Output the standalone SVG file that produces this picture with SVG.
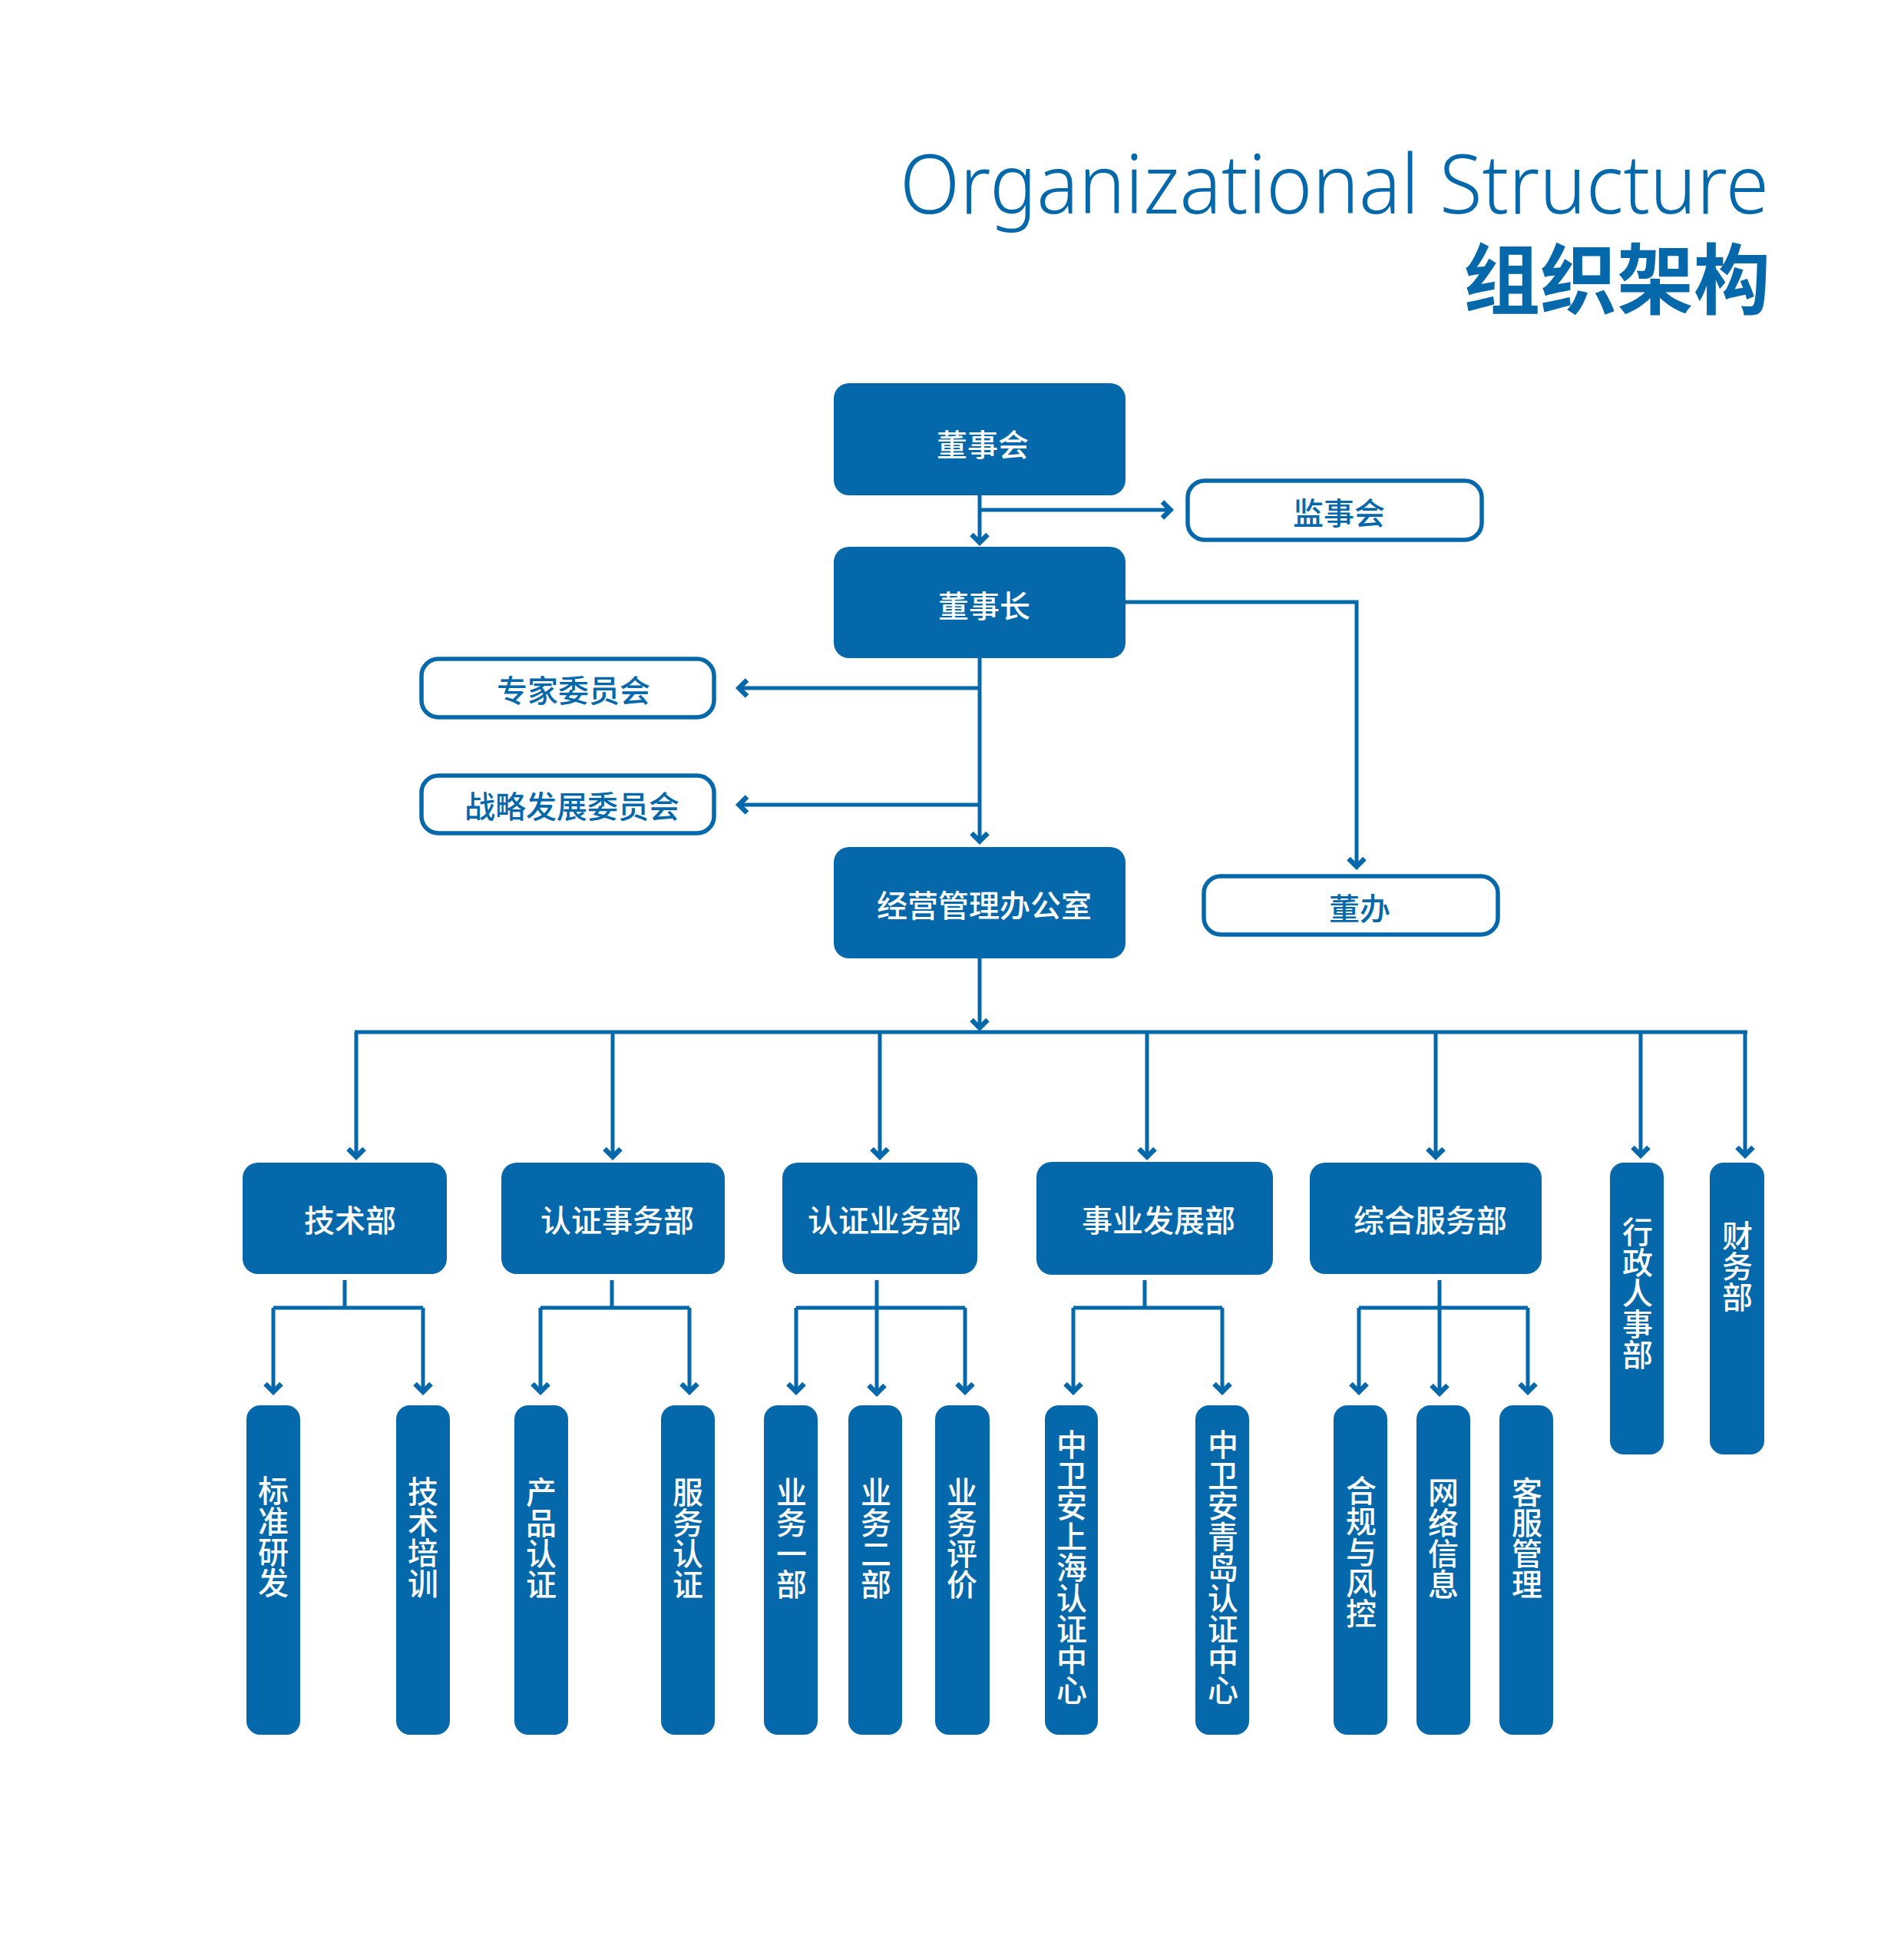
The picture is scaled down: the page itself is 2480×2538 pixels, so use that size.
<svg xmlns="http://www.w3.org/2000/svg" width="2480" height="2538" viewBox="0 0 2480 2538">
<defs>
<style>
.box{fill:#0468ab;}
.obox{fill:#ffffff;stroke:#0468ab;stroke-width:5.5;}
.lbl{font-family:"Noto Sans CJK SC","Noto Sans",sans-serif;font-size:40px;font-weight:500;text-anchor:middle;dominant-baseline:central;}
.w{fill:#ffffff;}
.b{fill:#0468ab;}
.vt{font-family:"Noto Sans CJK SC","Noto Sans",sans-serif;font-size:40px;font-weight:500;fill:#ffffff;writing-mode:vertical-rl;text-anchor:start;}
.ln{fill:none;stroke:#0468ab;stroke-width:5;}
.ar{fill:none;stroke:#0468ab;stroke-width:5;marker-end:url(#arr);}
</style>
<marker id="arr" markerUnits="userSpaceOnUse" markerWidth="32" markerHeight="32" viewBox="-16 -16 32 32" refX="0" refY="0" orient="auto">
<path d="M-12,-10.5 L-1.5,0 L-12,10.5" fill="none" stroke="#0468ab" stroke-width="6.5" stroke-linejoin="miter"/>
</marker>
</defs>
<rect width="2480" height="2538" fill="#ffffff"/>
<g id="title">
<text x="1172" y="278" textLength="1132" lengthAdjust="spacingAndGlyphs" style="font-family:'Noto Sans',sans-serif;font-size:106px;font-weight:300;fill:#0468ab;">Organizational Structure</text>
<text x="2306" y="401" text-anchor="end" style="font-family:'Noto Sans CJK SC',sans-serif;font-size:100px;font-weight:700;fill:#0468ab;">组织架构</text>
</g>
<g id="connectors">
<path class="ar" d="M1276,645 V708"/>
<path class="ar" d="M1276,664 H1526"/>
<path class="ar" d="M1466,784 H1767 V1130"/>
<path class="ar" d="M1276,857 V1097"/>
<path class="ar" d="M1276,896 H961"/>
<path class="ar" d="M1276,1048 H961"/>
<path class="ar" d="M1276,1248 V1340"/>
<path class="ln" d="M462,1344 H2276"/>
<path class="ar" d="M464,1344 V1508"/>
<path class="ar" d="M798,1344 V1508"/>
<path class="ar" d="M1146,1344 V1508"/>
<path class="ar" d="M1494,1344 V1508"/>
<path class="ar" d="M1870,1344 V1508"/>
<path class="ar" d="M2137,1344 V1506"/>
<path class="ar" d="M2273,1344 V1506"/>
<path class="ln" d="M449,1667 V1703 M356,1703 H551"/>
<path class="ar" d="M356,1703 V1814"/>
<path class="ar" d="M551,1703 V1814"/>
<path class="ln" d="M797,1667 V1703 M704,1703 H898"/>
<path class="ar" d="M704,1703 V1814"/>
<path class="ar" d="M898,1703 V1814"/>
<path class="ln" d="M1037,1703 H1257"/>
<path class="ar" d="M1142,1667 V1816"/>
<path class="ar" d="M1037,1703 V1814"/>
<path class="ar" d="M1257,1703 V1814"/>
<path class="ln" d="M1491,1667 V1703 M1398,1703 H1592"/>
<path class="ar" d="M1398,1703 V1814"/>
<path class="ar" d="M1592,1703 V1814"/>
<path class="ln" d="M1770,1703 H1990"/>
<path class="ar" d="M1875,1667 V1816"/>
<path class="ar" d="M1770,1703 V1814"/>
<path class="ar" d="M1990,1703 V1814"/>
</g>
<g id="n-dongshihui"><rect class="box" x="1086" y="499" width="380" height="146" rx="20"/><text class="lbl w" x="1280" y="577">董事会</text></g>
<g id="n-jianshihui"><rect class="obox" x="1547" y="626" width="383" height="77" rx="22"/><text class="lbl b" x="1744" y="666">监事会</text></g>
<g id="n-dongshizhang"><rect class="box" x="1086" y="712" width="380" height="145" rx="20"/><text class="lbl w" x="1282" y="787">董事长</text></g>
<g id="n-zhuanjia"><rect class="obox" x="549" y="858" width="381" height="76" rx="22"/><text class="lbl b" x="747" y="897">专家委员会</text></g>
<g id="n-zhanlve"><rect class="obox" x="549" y="1010" width="381" height="75" rx="22"/><text class="lbl b" x="745" y="1048">战略发展委员会</text></g>
<g id="n-jingying"><rect class="box" x="1086" y="1103" width="380" height="145" rx="20"/><text class="lbl w" x="1282" y="1177">经营管理办公室</text></g>
<g id="n-dongban"><rect class="obox" x="1568" y="1141" width="383" height="76" rx="22"/><text class="lbl b" x="1771" y="1181">董办</text></g>
<g id="n-jishubu"><rect class="box" x="316" y="1514" width="266" height="145" rx="20"/><text class="lbl w" x="456" y="1587">技术部</text></g>
<g id="n-renzhengshiwu"><rect class="box" x="653" y="1514" width="291" height="145" rx="20"/><text class="lbl w" x="804" y="1587">认证事务部</text></g>
<g id="n-renzhengyewu"><rect class="box" x="1019" y="1514" width="254" height="145" rx="20"/><text class="lbl w" x="1152" y="1587">认证业务部</text></g>
<g id="n-shiyefazhan"><rect class="box" x="1350" y="1513" width="308" height="147" rx="20"/><text class="lbl w" x="1509" y="1587">事业发展部</text></g>
<g id="n-zonghefuwu"><rect class="box" x="1706" y="1514" width="302" height="145" rx="20"/><text class="lbl w" x="1863" y="1587">综合服务部</text></g>
<g id="n-xingzheng"><rect class="box" x="2097" y="1514" width="70" height="380" rx="18"/><text class="vt" x="2133" y="1584">行政人事部</text></g>
<g id="n-caiwu"><rect class="box" x="2227" y="1514" width="71" height="380" rx="18"/><text class="vt" x="2263" y="1589">财务部</text></g>
<g id="n-biaozhun"><rect class="box" x="321" y="1830" width="70" height="429" rx="18"/><text class="vt" x="356" y="1921">标准研发</text></g>
<g id="n-jishupeixun"><rect class="box" x="516" y="1830" width="70" height="429" rx="18"/><text class="vt" x="551" y="1922">技术培训</text></g>
<g id="n-chanpin"><rect class="box" x="670" y="1830" width="70" height="429" rx="18"/><text class="vt" x="705" y="1923">产品认证</text></g>
<g id="n-fuwu"><rect class="box" x="861" y="1830" width="70" height="429" rx="18"/><text class="vt" x="896" y="1923">服务认证</text></g>
<g id="n-yewu1"><rect class="box" x="995" y="1830" width="70" height="429" rx="18"/><text class="vt" x="1031" y="1923">业务一部</text></g>
<g id="n-yewu2"><rect class="box" x="1105" y="1830" width="70" height="429" rx="18"/><text class="vt" x="1141" y="1923">业务二部</text></g>
<g id="n-yewupingjia"><rect class="box" x="1218" y="1830" width="71" height="429" rx="18"/><text class="vt" x="1253" y="1923">业务评价</text></g>
<g id="n-shanghai"><rect class="box" x="1361" y="1830" width="69" height="429" rx="18"/><text class="vt" x="1396" y="1861">中卫安上海认证中心</text></g>
<g id="n-qingdao"><rect class="box" x="1557" y="1830" width="70" height="429" rx="18"/><text class="vt" x="1593" y="1861">中卫安青岛认证中心</text></g>
<g id="n-hegui"><rect class="box" x="1737" y="1830" width="70" height="429" rx="18"/><text class="vt" x="1773" y="1921">合规与风控</text></g>
<g id="n-wangluo"><rect class="box" x="1845" y="1830" width="70" height="429" rx="18"/><text class="vt" x="1880" y="1923">网络信息</text></g>
<g id="n-kefu"><rect class="box" x="1953" y="1830" width="70" height="429" rx="18"/><text class="vt" x="1989" y="1923">客服管理</text></g>
</svg>
